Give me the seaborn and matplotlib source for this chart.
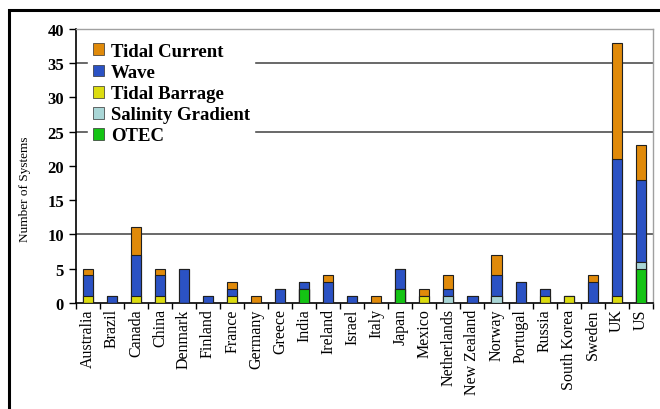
import numpy as np
import pandas as pd
import seaborn as sns
import matplotlib.pyplot as plt
from matplotlib.patches import Rectangle

countries = ["Australia", "Brazil", "Canada", "China", "Denmark", "Finland", "France",
             "Germany", "Greece", "India", "Ireland", "Israel", "Italy", "Japan", "Mexico",
             "Netherlands", "New Zealand", "Norway", "Portugal", "Russia", "South Korea",
             "Sweden", "UK", "US"]
otec      = [0, 0, 0, 0, 0, 0, 0, 0, 0, 2, 0, 0, 0, 2, 0, 0, 0, 0, 0, 0, 0, 0, 0, 5]
salinity  = [0, 0, 0, 0, 0, 0, 0, 0, 0, 0, 0, 0, 0, 0, 0, 1, 0, 1, 0, 0, 0, 0, 0, 1]
barrage   = [1, 0, 1, 1, 0, 0, 1, 0, 0, 0, 0, 0, 0, 0, 1, 0, 0, 0, 0, 1, 1, 0, 1, 0]
wave      = [3, 1, 6, 3, 5, 1, 1, 0, 2, 1, 3, 1, 0, 3, 0, 1, 1, 3, 3, 1, 0, 3, 20, 12]
current   = [1, 0, 4, 1, 0, 0, 1, 1, 0, 0, 1, 0, 1, 0, 1, 2, 0, 3, 0, 0, 0, 1, 17, 5]

series = ["OTEC", "Salinity Gradient", "Tidal Barrage", "Wave", "Tidal Current"]
colors = {"OTEC": "#14c414", "Salinity Gradient": "#a9d6d6", "Tidal Barrage": "#dcdc10",
          "Wave": "#2b52c4", "Tidal Current": "#e08a0a"}

df = pd.DataFrame({"Country": countries, "OTEC": otec, "Salinity Gradient": salinity,
                   "Tidal Barrage": barrage, "Wave": wave, "Tidal Current": current})
cum = df[series].cumsum(axis=1)

plt.rcParams['font.family'] = ['Liberation Serif', 'DejaVu Serif']
fig = plt.figure(figsize=(6.6, 4.1), dpi=100)
ax = fig.add_axes([0.115, 0.259, 0.874, 0.668])

# draw cumulative totals from the top layer down so each layer overlays the one above
for s in series[::-1]:
    sns.barplot(x=df["Country"], y=cum[s], color=colors[s], width=0.42,
                edgecolor="#202020", linewidth=0.8, saturation=1, ax=ax, zorder=3)

for yv in [10, 25, 35]:
    ax.axhline(yv, color="#404040", lw=1.1, zorder=1)

ax.set_ylim(0, 40)
ax.set_xlim(-0.5, len(countries) - 0.5)
ax.set_yticks(range(0, 41, 5))
ax.set_yticklabels([str(v) for v in range(0, 41, 5)], fontsize=12, fontweight="bold")
ax.set_xticks(range(len(countries)))
ax.set_xticklabels(countries, rotation=90, fontsize=11.5)
ax.tick_params(axis="x", length=0, pad=4)
ax.set_xticks(np.arange(-0.5, len(countries), 1), minor=True)
ax.tick_params(axis="x", which="minor", length=4, width=1, direction="out")
ax.tick_params(axis="y", length=5, width=1, direction="out")
ax.set_xlabel("")
ax.set_ylabel("Number of Systems", fontsize=9.5)
ax.yaxis.set_label_coords(-0.077, 0.42)

for side in ["top", "right"]:
    ax.spines[side].set_color("#a0a0a0")
    ax.spines[side].set_linewidth(1)
for side in ["left", "bottom"]:
    ax.spines[side].set_color("black")
    ax.spines[side].set_linewidth(1.2)

handles = [Rectangle((0, 0), 1, 1, facecolor=colors[s], edgecolor="#303030", lw=0.5)
           for s in series[::-1]]
leg = ax.legend(handles, series[::-1], loc="upper left", bbox_to_anchor=(0.005, 1.0),
                frameon=True, framealpha=1, edgecolor="white", fancybox=False,
                prop={"weight": "bold", "size": 13.5}, handlelength=0.6, handleheight=0.6,
                handletextpad=0.35, labelspacing=0.22, borderpad=0.25)
leg.set_zorder(5)

fig.patches.append(Rectangle((9 / 660, -0.1), 1.2, 1 - 11 / 410 + 0.1, transform=fig.transFigure,
                             fill=False, edgecolor="black", lw=2.2, zorder=0))

fig.savefig("out.png", dpi=100)
